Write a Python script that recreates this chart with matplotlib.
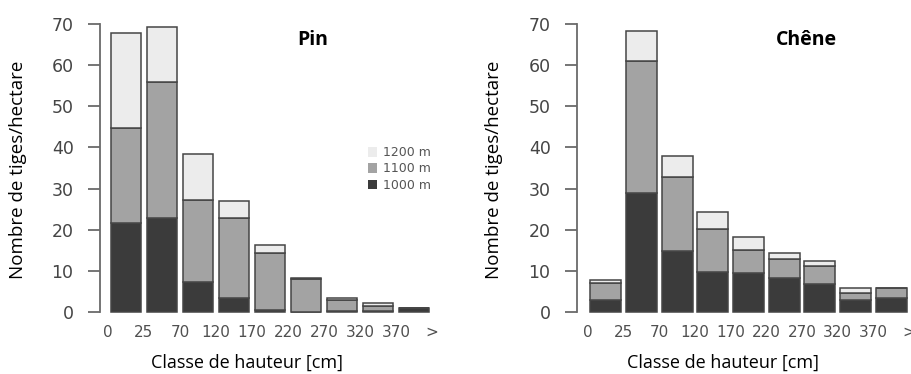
import matplotlib.pyplot as plt
import numpy as np
from matplotlib.patches import Patch

# classes de hauteur (bornes) et effectifs par altitude
classes = ['0', '25', '70', '120', '170', '220', '270', '320', '370', '>']
altitudes = ['1000 m', '1100 m', '1200 m']

pin_1000 = [21.6, 22.8, 7.4, 3.5, 0.5, 0.0, 0.3, 0.3, 0.9]
pin_1100 = [23.2, 33.2, 19.8, 19.3, 13.8, 8.0, 2.5, 1.2, 0.0]
pin_1200 = [23.1, 13.2, 11.2, 4.2, 2.0, 0.3, 0.7, 0.6, 0.0]

chene_1000 = [3.0, 29.0, 14.9, 9.6, 9.4, 8.3, 6.7, 2.9, 3.5]
chene_1100 = [4.0, 32.0, 17.8, 10.5, 5.7, 4.5, 4.5, 1.6, 2.4]
chene_1200 = [0.8, 7.4, 5.2, 4.1, 3.2, 1.6, 1.2, 1.3, 0.0]

couleurs = ['#3b3b3b', '#a3a3a3', '#ececec']
W, H = 912, 374

fig = plt.figure(figsize=(W / 100, H / 100), dpi=100)


def panneau(x0, x1, xlim, series, width):
    # axes placés en pixels
    y0, y1 = 315, 20
    ax = fig.add_axes([x0 / W, 1 - y0 / H, (x1 - x0) / W, (y0 - y1) / H])
    pos = np.arange(len(series[0])) + 0.5
    bas = np.zeros(len(pos))
    for vals, c in zip(series, couleurs):
        ax.bar(pos, vals, width=width, bottom=bas, color=c,
               edgecolor='#454545', linewidth=1.1)
        bas += np.array(vals)
    ax.set_xlim(*xlim)
    ax.set_ylim(-0.73, 70.97)
    for s in ['top', 'right', 'bottom']:
        ax.spines[s].set_visible(False)
    ax.spines['left'].set_bounds(0, 70)
    ax.spines['left'].set_color('#6a6a6a')
    ax.spines['left'].set_linewidth(1.3)
    ax.set_yticks(range(0, 71, 10))
    ax.tick_params(axis='y', length=9, width=1.3, color='#6a6a6a',
                   labelcolor='#454545', labelsize=12.5, pad=10)
    ax.set_xticks(range(len(classes)))
    ax.set_xticklabels(classes, family=['Liberation Sans Narrow', 'DejaVu Sans'])
    ax.tick_params(axis='x', length=0, labelcolor='#505050', labelsize=11, pad=7)
    return ax


ax1 = panneau(100, 445, (-0.22, 9.36), [pin_1000, pin_1100, pin_1200], 0.83)
ax2 = panneau(577, 912, (-0.31, 9.08), [chene_1000, chene_1100, chene_1200], 0.87)

# légende (ordre inversé comme dans l'original)
handles = [Patch(facecolor=c, edgecolor='none') for c in couleurs][::-1]
ax1.legend(handles, altitudes[::-1], loc='center left',
           bbox_to_anchor=(357 / W, 1 - 169 / H), bbox_transform=fig.transFigure,
           frameon=False, fontsize=9, labelcolor='#555555', handlelength=0.7,
           handleheight=0.8, handletextpad=0.5, labelspacing=0.25)

police = ['Open Sans', 'DejaVu Sans']
fig.text(313 / W, 1 - 40 / H, 'Pin', ha='center', va='center',
         fontsize=14, fontweight='bold', family=police)
fig.text(806 / W, 1 - 40 / H, 'Chêne', ha='center', va='center',
         fontsize=14, fontweight='bold', family=police)
for xc in [247, 723]:
    fig.text(xc / W, 1 - 368 / H, 'Classe de hauteur [cm]', ha='center',
             va='baseline', fontsize=13, family=police)
for xc in [18, 494]:
    fig.text(xc / W, 1 - 170 / H, 'Nombre de tiges/hectare', ha='center',
             va='center', rotation=90, fontsize=13.5, family=police)

fig.savefig('out.png', dpi=100)
